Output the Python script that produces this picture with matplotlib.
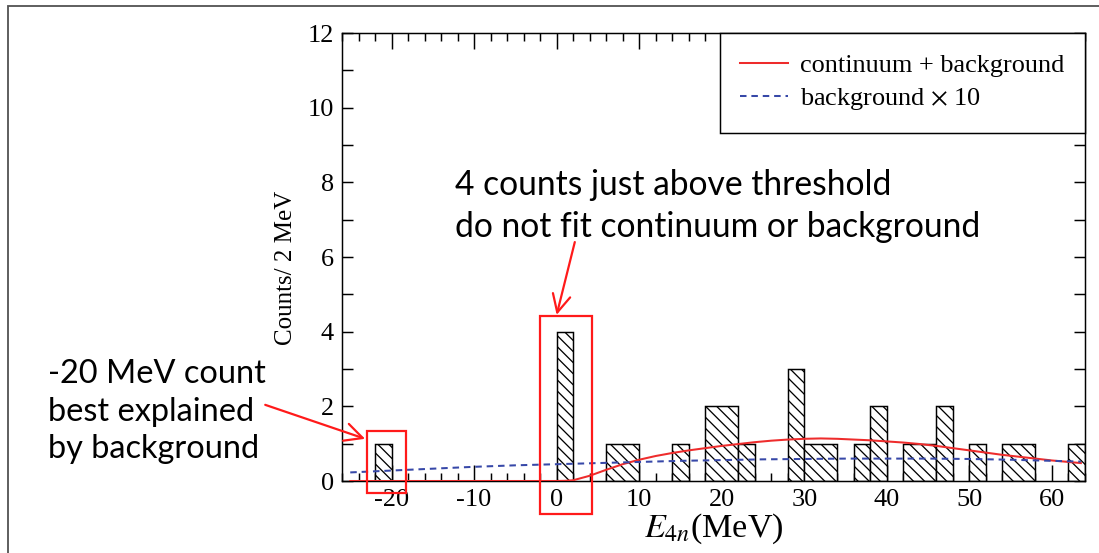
import matplotlib.pyplot as plt
from matplotlib.patches import Rectangle
from matplotlib.ticker import MultipleLocator

# 2 MeV bins with non-zero counts (left edge, counts)
bin_left = [-22, 0, 6, 8, 14, 18, 20, 22, 28, 30, 32, 36, 38, 42, 44, 46, 50, 54, 56, 62]
counts = [1, 4, 1, 1, 1, 2, 2, 1, 3, 1, 1, 1, 2, 1, 1, 2, 1, 1, 1, 1]
bin_width = 2

# continuum + background fit
fit_E = [-25, -10, 0, 1, 2, 4, 6, 8, 10, 12, 14, 16, 18, 20, 22, 24, 26, 28, 30, 32,
         34, 36, 38, 40, 42, 44, 46, 48, 50, 52, 54, 56, 58, 60, 62, 63.5]
fit_counts = [0.0, 0.0, 0.0, 0.005, 0.02, 0.14, 0.30, 0.45, 0.57, 0.67, 0.75, 0.82, 0.88,
              0.94, 0.99, 1.04, 1.08, 1.11, 1.13, 1.14, 1.13, 1.11, 1.09, 1.06, 1.03, 0.99,
              0.94, 0.88, 0.82, 0.76, 0.70, 0.65, 0.60, 0.55, 0.51, 0.48]

# background x 10
bg_E = [-25, -20, -15, -10, -5, 0, 5, 10, 15, 20, 25, 30, 35, 40, 45, 50, 55, 60, 63.5]
bg_counts = [0.23, 0.28, 0.33, 0.38, 0.42, 0.45, 0.48, 0.51, 0.54, 0.56, 0.58, 0.59,
             0.60, 0.60, 0.60, 0.59, 0.57, 0.54, 0.52]

W, H, DPI = 1099, 553, 133
plt.rcParams['font.family'] = 'Liberation Serif'
plt.rcParams['mathtext.fontset'] = 'stix'
plt.rcParams['axes.unicode_minus'] = False
plt.rcParams['hatch.linewidth'] = 0.7

fig = plt.figure(figsize=(W / DPI, H / DPI), dpi=DPI)
ax = fig.add_axes([342 / W, 1 - 481 / H, 743 / W, 448 / H])

# merge neighbouring bins of equal height into one box
boxes = []
for left, c in zip(bin_left, counts):
    if boxes and boxes[-1][0] + boxes[-1][1] == left and boxes[-1][2] == c:
        boxes[-1][1] += bin_width
    else:
        boxes.append([left, bin_width, c])
for left, width, c in boxes:
    ax.bar(left, c, width=width, align='edge', facecolor='white', edgecolor='black',
           linewidth=0.8, hatch='\\\\\\\\', zorder=2)

ax.plot(fit_E, fit_counts, color='#ee2c2c', lw=1.1, zorder=3, label='continuum + background')
ax.plot(bg_E, bg_counts, color='#3748a8', lw=1.1, ls=(0, (3.2, 2.4)), zorder=3,
        label=r'background $\times$ 10')

ax.set_xlim(-26, 64)
ax.set_ylim(0, 12)
ax.xaxis.set_major_locator(MultipleLocator(10))
ax.xaxis.set_minor_locator(MultipleLocator(2))
ax.yaxis.set_major_locator(MultipleLocator(2))
ax.yaxis.set_minor_locator(MultipleLocator(1))
ax.tick_params(axis='both', which='both', direction='in', top=True, right=True,
               width=0.8, labelsize=14.2, pad=4.5)
ax.tick_params(axis='x', which='major', length=8.7)
ax.tick_params(axis='x', which='minor', length=4.3)
ax.tick_params(axis='y', which='both', length=6.2)
for s in ax.spines.values():
    s.set_linewidth(0.8)

ax.set_ylabel('Counts/ 2 MeV', fontsize=13.5)
ax.yaxis.set_label_coords(-0.061, 0.475)
ax.set_xlabel(r'$E_{4n}$(MeV)', fontsize=18.5, labelpad=0)

leg = ax.legend(loc='upper right', bbox_to_anchor=(1, 1), borderaxespad=0, fontsize=14.2,
                frameon=True, fancybox=False, edgecolor='black', framealpha=1,
                handlelength=1.8, handletextpad=0.46, labelspacing=0.33, borderpad=0.8)
leg.get_frame().set_linewidth(0.8)

# boxes and arrows marking the discussed bins
box_kw = dict(fill=False, edgecolor='#ff1a1a', linewidth=1.2, clip_on=False, zorder=5)
ax.add_patch(Rectangle((-23.0, -0.33), 4.8, 1.67, **box_kw))
ax.add_patch(Rectangle((-2.0, -0.88), 6.3, 5.30, **box_kw))
arrow_kw = dict(arrowstyle='->', color='#ff1a1a', lw=1.2, mutation_scale=24,
                shrinkA=0, shrinkB=0)
ax.annotate('', xy=(-23.2, 1.13), xytext=(-35.3, 2.04), annotation_clip=False,
            arrowprops=arrow_kw)
ax.annotate('', xy=(0.0, 4.45), xytext=(2.2, 6.4), annotation_clip=False,
            arrowprops=arrow_kw)

fig.text(455 / W, 1 - 169 / H, '4 counts just above threshold\ndo not fit continuum or background',
         family='Lato', fontsize=18.2, linespacing=1.37, va='top', ha='left')
fig.text(48 / W, 1 - 359 / H, '-20 MeV count\nbest explained\nby background',
         family='Lato', fontsize=17.6, linespacing=1.32, va='top', ha='left')

# slide frame
fig.patches.append(Rectangle((8 / W, -0.1), 1.2, 1.1 - 6 / H, transform=fig.transFigure,
                             fill=False, edgecolor='#555555', linewidth=1.0))

fig.savefig('out.png', dpi=DPI)
